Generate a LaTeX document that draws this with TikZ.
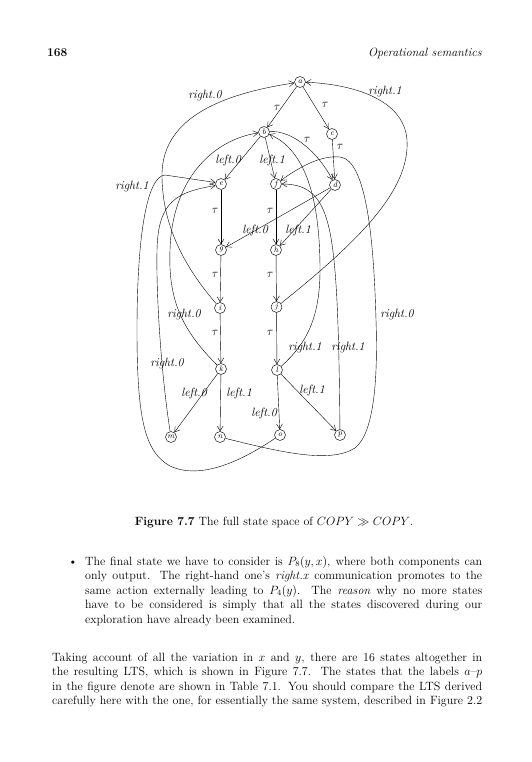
\documentclass[tikz,border=0pt]{standalone}
\usetikzlibrary{arrows.meta}
\begin{document}
\begin{tikzpicture}[x=1pt,y=-1pt,
  st/.style={draw,circle,inner sep=0pt,minimum size=11pt,line width=0.45pt,font=\fontsize{8}{8}\selectfont\itshape},
  lbl/.style={inner sep=0pt,font=\fontsize{12}{12}\selectfont\itshape},
  tl/.style={inner sep=0pt,font=\fontsize{12}{12}\selectfont},
  ar/.style={-{Straight Barb[length=5pt,width=6pt]},line width=0.4pt},
  txt/.style={inner sep=0pt,anchor=base west,font=\fontsize{12}{14.5}\selectfont},
]
\useasboundingbox (0,0) rectangle (532,762);
% header
\node[txt] (hnum) at (47,57) {\textbf{168}};
\node[txt,anchor=base east] (htitle) at (482,57) {\textit{Operational semantics}};
% states
\node[st] (a) at (300,82) {a};
\node[st] (b) at (264,132) {b};
\node[st] (c) at (332,134) {c};
\node[st] (d) at (335,185) {d};
\node[st] (e) at (221,184) {e};
\node[st] (f) at (276,184) {f};
\node[st] (g) at (221,250) {g};
\node[st] (h) at (276,250) {h};
\node[st] (i) at (220,308) {i};
\node[st] (j) at (276.5,307) {j};
\node[st] (k) at (221,369) {k};
\node[st] (l) at (277,370) {l};
\node[st] (m) at (171,437) {m};
\node[st] (n) at (220,437) {n};
\node[st] (o) at (280,435) {o};
\node[st] (p) at (340,435) {p};
% tau and left edges
\draw[ar] (a) -- (b);
\draw[ar] (a) -- (c);
\draw[ar] (b) .. controls (292,130) and (318,152) .. (d);
\draw[ar] (c) -- (d);
\draw[ar] (b) -- (e);
\draw[ar] (b) -- (f);
\draw[ar] (e) -- (g);
\draw[ar] (f) -- (h);
\draw[ar] (d) -- (g);
\draw[ar] (d) -- (h);
\draw[ar] (g) -- (i);
\draw[ar] (h) -- (j);
\draw[ar] (i) -- (k);
\draw[ar] (j) -- (l);
\draw[ar] (k) -- (m);
\draw[ar] (k) -- (n);
\draw[ar] (l) -- (o);
\draw[ar] (l) -- (p);
% right edges
\draw[ar] (i) .. controls (180,262) and (162,220) .. (162,175) .. controls (162,112) and (235,92) .. (a);
\draw[ar] (j) .. controls (360,240) and (410,190) .. (407,140) .. controls (404,98) and (350,84) .. (a);
\draw[ar] (k) .. controls (182,330) and (168,300) .. (170,250) .. controls (172,180) and (212,140) .. (b);
\draw[ar] (l) .. controls (305,345) and (320,320) .. (320,270) .. controls (320,200) and (306,150) .. (b);
\draw[ar] (m) .. controls (162,380) and (156,300) .. (157,250) .. controls (158,200) and (178,192) .. (e.195);
\draw[ar] (o) .. controls (240,462) and (200,480) .. (170,466) .. controls (145,452) and (137,420) .. (137,330) .. controls (137,230) and (148,176) .. (165,175) -- (e.165);
\draw[ar] (n) .. controls (280,452) and (330,464) .. (355,448) .. controls (374,433) and (378,380) .. (376,320) .. controls (374,250) and (368,160) .. (340,157) .. controls (320,155) and (298,168) .. (f);
\draw[ar] (p) .. controls (339,330) and (337,262) .. (329,228) .. controls (322,198) and (310,184) .. (f);
% labels
\node[tl] (t1) at (277,108) {$\tau$};
\node[tl] (t2) at (325,105) {$\tau$};
\node[tl] (t3) at (307,140) {$\tau$};
\node[tl] (t4) at (340,147) {$\tau$};
\node[tl] (t5) at (215,211) {$\tau$};
\node[tl] (t6) at (270,211) {$\tau$};
\node[tl] (t7) at (215,275) {$\tau$};
\node[tl] (t8) at (270,275) {$\tau$};
\node[tl] (t9) at (215,333) {$\tau$};
\node[tl] (t10) at (270,333) {$\tau$};
\node[lbl] (l1) at (228,161) {left.0};
\node[lbl] (l2) at (272,161) {left.1};
\node[lbl] (l3) at (255,230) {left.0};
\node[lbl] (l4) at (298,230) {left.1};
\node[lbl] (l5) at (194,393) {left.0};
\node[lbl] (l6) at (239,393) {left.1};
\node[lbl] (l7) at (264,413) {left.0};
\node[lbl] (l8) at (312,390) {left.1};
\node[lbl] (r1) at (205,96) {right.0};
\node[lbl] (r2) at (385,92) {right.1};
\node[lbl] (r3) at (132,187) {right.1};
\node[lbl] (r4) at (184,315) {right.0};
\node[lbl] (r5) at (397,315) {right.0};
\node[lbl] (r6) at (167,364) {right.0};
\node[lbl] (r7) at (305,348) {right.1};
\node[lbl] (r8) at (348,348) {right.1};
% caption
\node[txt,anchor=base] (cap) at (274,525) {\textbf{Figure 7.7} The full state space of $COPY\gg COPY$.};
% bullet paragraph
\node[txt,anchor=base] (bul) at (73,565) {\textbullet};
\node[txt] (b1) at (85,565) {\makebox[397pt][s]{The final state we have to consider is $P_8(y,x)$, where both components can}};
\node[txt] (b2) at (85,579.5) {\makebox[397pt][s]{only output. The right-hand one's \textit{right.x} communication promotes to the}};
\node[txt] (b3) at (85,594) {\makebox[397pt][s]{same action externally leading to $P_4(y)$. The \textit{reason} why no more states}};
\node[txt] (b4) at (85,608.5) {\makebox[397pt][s]{have to be considered is simply that all the states discovered during our}};
\node[txt] (b5) at (85,623) {exploration have already been examined.};
% second paragraph
\node[txt] (p1) at (52,661) {\makebox[430pt][s]{Taking account of all the variation in $x$ and $y$, there are 16 states altogether in}};
\node[txt] (p2) at (52,675.5) {\makebox[430pt][s]{the resulting LTS, which is shown in Figure 7.7. The states that the labels $a$--$p$}};
\node[txt] (p3) at (52,690) {\makebox[430pt][s]{in the figure denote are shown in Table 7.1. You should compare the LTS derived}};
\node[txt] (p4) at (52,704.5) {\makebox[430pt][s]{carefully here with the one, for essentially the same system, described in Figure 2.2}};
\end{tikzpicture}
\end{document}
